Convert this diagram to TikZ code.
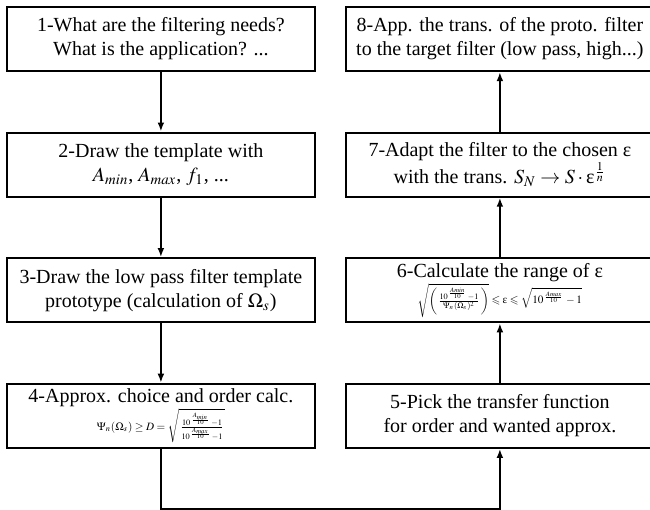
\documentclass[tikz,border=0pt]{standalone}
\usepackage{amsmath, amssymb}
\usepackage{mathptmx}
\usepackage{fontspec}
\setmainfont{Liberation Serif}
\usetikzlibrary{arrows.meta,positioning}
\newcommand{\eps}{\text{ε}}

\begin{document}
\begin{tikzpicture}[
    node distance=29.7pt and 14.4pt,
    box/.style = {draw, line width=1.1pt, align=center, minimum width=154pt, minimum height=32pt, inner xsep=2pt, inner ysep=0pt},
    link/.style = {->, line width=1.1pt},
    >={Latex[length=4.5pt, width=3.4pt]}
  ]
  \useasboundingbox (-80.45pt,19.5pt) rectangle (244.55pt,-235.5pt);
  % left column, top to bottom
  \node[box] (needs) {1-What are the filtering needs?\\What is the application? ...};
  \node[box, below=of needs] (templ) {2-Draw the template with\\$A_{min}$, $A_{max}$, $f_1$, ...};
  \node[box, below=of templ] (proto) {3-Draw the low pass filter template\\prototype (calculation of $\Omega_s$)};
  \node[box, below=of proto] (approx) {4-Approx. choice and order calc.\\{\fontsize{5.6}{6}\selectfont $\Psi_n(\Omega_s)\geq D=\sqrt{\frac{10^{\frac{A_{min}}{10}}-1}{10^{\frac{A_{max}}{10}}-1}}$}};
  % right column, bottom to top
  \node[box, right=of approx] (pick) {5-Pick the transfer function\\for order and wanted approx.};
  \node[box, right=of proto] (range) {6-Calculate the range of $\eps$\\{\fontsize{5.6}{6}\selectfont $\sqrt{\left(\frac{10^{\frac{Amin}{10}}-1}{\Psi_n(\Omega_s)^2}\right)}\leqslant\eps\leqslant\sqrt{10^{\frac{Amax}{10}}-1}$}};
  \node[box, right=of templ] (adapt) {7-Adapt the filter to the chosen $\eps$\\with the trans. $S_N\rightarrow S\cdot\eps^{\frac{1}{n}}$};
  \node[box, right=of needs] (trans) {8-App. the trans. of the proto. filter\\to the target filter (low pass, high...)};
  \coordinate (low) at ([yshift=-29.9pt]approx.south);
  \draw[link] (needs) -- (templ);
  \draw[link] (templ) -- (proto);
  \draw[link] (proto) -- (approx);
  \draw[link] (approx.south) -- (low) -| (pick.south);
  \draw[link] (pick) -- (range);
  \draw[link] (range) -- (adapt);
  \draw[link] (adapt) -- (trans);
\end{tikzpicture}
\end{document}
